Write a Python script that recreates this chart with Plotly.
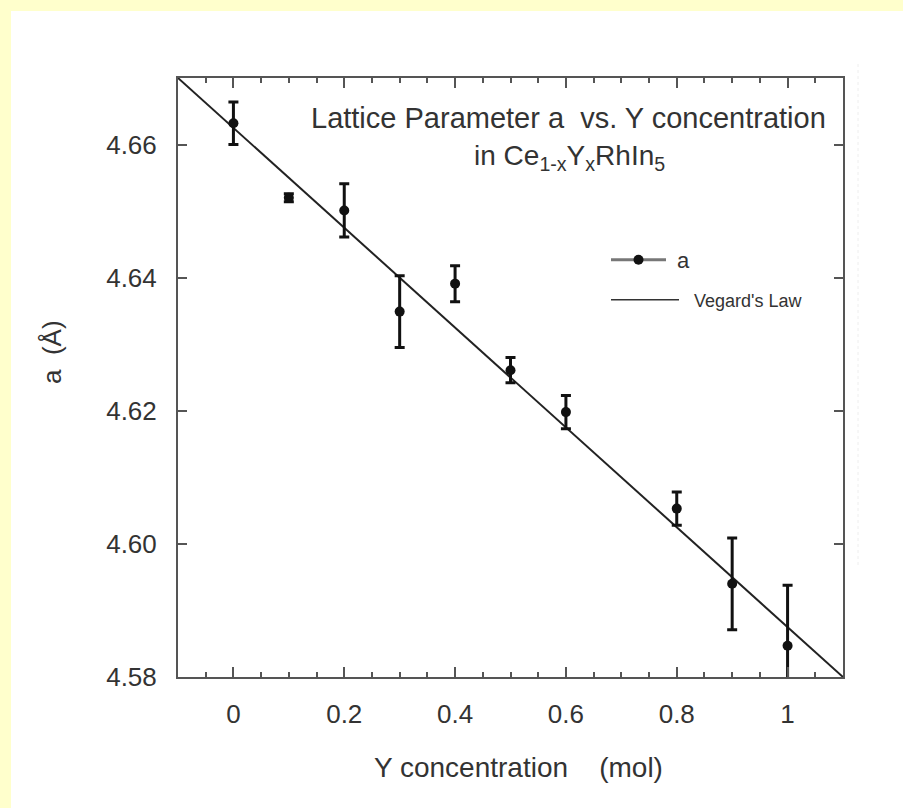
import plotly.graph_objects as go

# ---- data ----
x_conc = [0.0, 0.1, 0.2, 0.3, 0.4, 0.5, 0.6, 0.8, 0.9, 1.0]
a_param = [4.6632, 4.6520, 4.6501, 4.6349, 4.6391, 4.6261, 4.6198, 4.6053, 4.5940, 4.5847]
a_err = [0.0032, 0.0006, 0.0040, 0.0054, 0.0027, 0.0019, 0.0025, 0.0025, 0.0069, 0.0091]
vegard_x = [-0.1, 1.1]
vegard_a = [4.670, 4.580]
x_ticks = [0, 0.2, 0.4, 0.6, 0.8, 1]
x_tick_labels = ["0", "0.2", "0.4", "0.6", "0.8", "1"]
y_ticks = [4.58, 4.60, 4.62, 4.64, 4.66]
y_tick_labels = ["4.58", "4.60", "4.62", "4.64", "4.66"]

W, H = 903, 808
ML, MR, MT, MB = 178, 60, 78, 131
PW, PH = W - ML - MR, H - MT - MB


def px(xp):
    return (xp - ML) / PW


def py(yp):
    return (H - MB - yp) / PH


FONT = "Liberation Sans, Arial, Helvetica, sans-serif"
AXC = "#555555"
TXT = "#333333"
YELLOW = "#FFFFCC"

fig = go.Figure()

# Vegard's law line
fig.add_trace(go.Scatter(
    x=vegard_x, y=vegard_a, mode="lines",
    line=dict(color="#222222", width=2),
    name="Vegard's Law", showlegend=False, hoverinfo="skip"))

# data with error bars
fig.add_trace(go.Scatter(
    x=x_conc, y=a_param, mode="markers",
    marker=dict(color="#111111", size=10),
    error_y=dict(type="data", array=a_err, visible=True,
                 color="#111111", thickness=3, width=5),
    name="a", showlegend=False))

# legend entries
fig.add_trace(go.Scatter(
    x=[None], y=[None], mode="lines+markers",
    line=dict(color="#777777", width=3),
    marker=dict(color="#111111", size=10),
    name="\u00a0a", legend="legend"))
fig.add_trace(go.Scatter(
    x=[None], y=[None], mode="lines",
    line=dict(color="#333333", width=1.5),
    name="\u00a0\u00a0Vegard's Law", legend="legend2"))

fig.update_layout(
    width=W, height=H, autosize=False,
    margin=dict(l=ML, r=MR, t=MT, b=MB, pad=0),
    paper_bgcolor="white", plot_bgcolor="white",
    font=dict(family=FONT, color=TXT),
    legend=dict(x=px(606), y=py(260), xanchor="left", yanchor="middle",
                bgcolor="rgba(0,0,0,0)", itemwidth=55,
                font=dict(size=22, color=TXT, family=FONT)),
    legend2=dict(x=px(606), y=py(300), xanchor="left", yanchor="middle",
                 bgcolor="rgba(0,0,0,0)", itemwidth=68,
                 font=dict(size=18, color=TXT, family=FONT)),
)

fig.update_xaxes(
    range=[-0.1, 1.1], tickmode="array", tickvals=x_ticks, ticktext=x_tick_labels,
    ticks="inside", ticklen=10, tickwidth=2, tickcolor=AXC,
    showline=True, linewidth=2, linecolor=AXC, mirror="ticks",
    showgrid=False, zeroline=False,
    minor=dict(ticks="inside", ticklen=5, tickwidth=1.5, tickcolor=AXC,
               dtick=0.05, tick0=0, showgrid=False),
    tickfont=dict(size=26, color=TXT, family=FONT),
    ticklabelstandoff=13)

fig.update_yaxes(
    range=[4.58, 4.67], tickmode="array", tickvals=y_ticks, ticktext=y_tick_labels,
    ticks="inside", ticklen=9, tickwidth=2, tickcolor=AXC,
    showline=True, linewidth=2, linecolor=AXC, mirror="ticks",
    showgrid=False, zeroline=False,
    tickfont=dict(size=26, color=TXT, family=FONT),
    ticklabelstandoff=14)

annotations = [
    dict(text="Lattice Parameter a\u00a0 vs. Y concentration", x=px(568), y=py(118),
         font=dict(size=29, color=TXT, family=FONT)),
    dict(text="in Ce<sub>1-x</sub>Y<sub>x</sub>RhIn<sub>5</sub>", x=px(569), y=py(157),
         font=dict(size=28, color=TXT, family=FONT)),
    dict(text="Y concentration\u00a0\u00a0\u00a0\u00a0(mol)", x=px(518), y=py(767),
         font=dict(size=28, color=TXT, family=FONT)),
    dict(text="a\u00a0\u00a0(Å)", x=px(52), y=py(352), textangle=-90,
         font=dict(size=26, color=TXT, family=FONT)),
]
for an in annotations:
    an.update(xref="paper", yref="paper", xanchor="center", yanchor="middle",
              showarrow=False)
    fig.add_annotation(**an)

# yellow page border (left and top) and faint page edge line
fig.add_shape(type="rect", xref="paper", yref="paper",
              x0=px(-5), x1=px(11), y0=py(H + 5), y1=py(-5),
              fillcolor=YELLOW, line=dict(width=0), layer="below")
fig.add_shape(type="rect", xref="paper", yref="paper",
              x0=px(-5), x1=px(W + 5), y0=py(11), y1=py(-5),
              fillcolor=YELLOW, line=dict(width=0), layer="below")
fig.add_shape(type="line", xref="paper", yref="paper",
              x0=px(858), x1=px(858), y0=py(565), y1=py(62),
              line=dict(color="#eeeeee", width=1, dash="dot"), layer="below")

fig.write_html("out.html",
               config={"displayModeBar": False},
               post_script="document.body.style.margin='0';"
                           "document.body.style.overflow='hidden';")
